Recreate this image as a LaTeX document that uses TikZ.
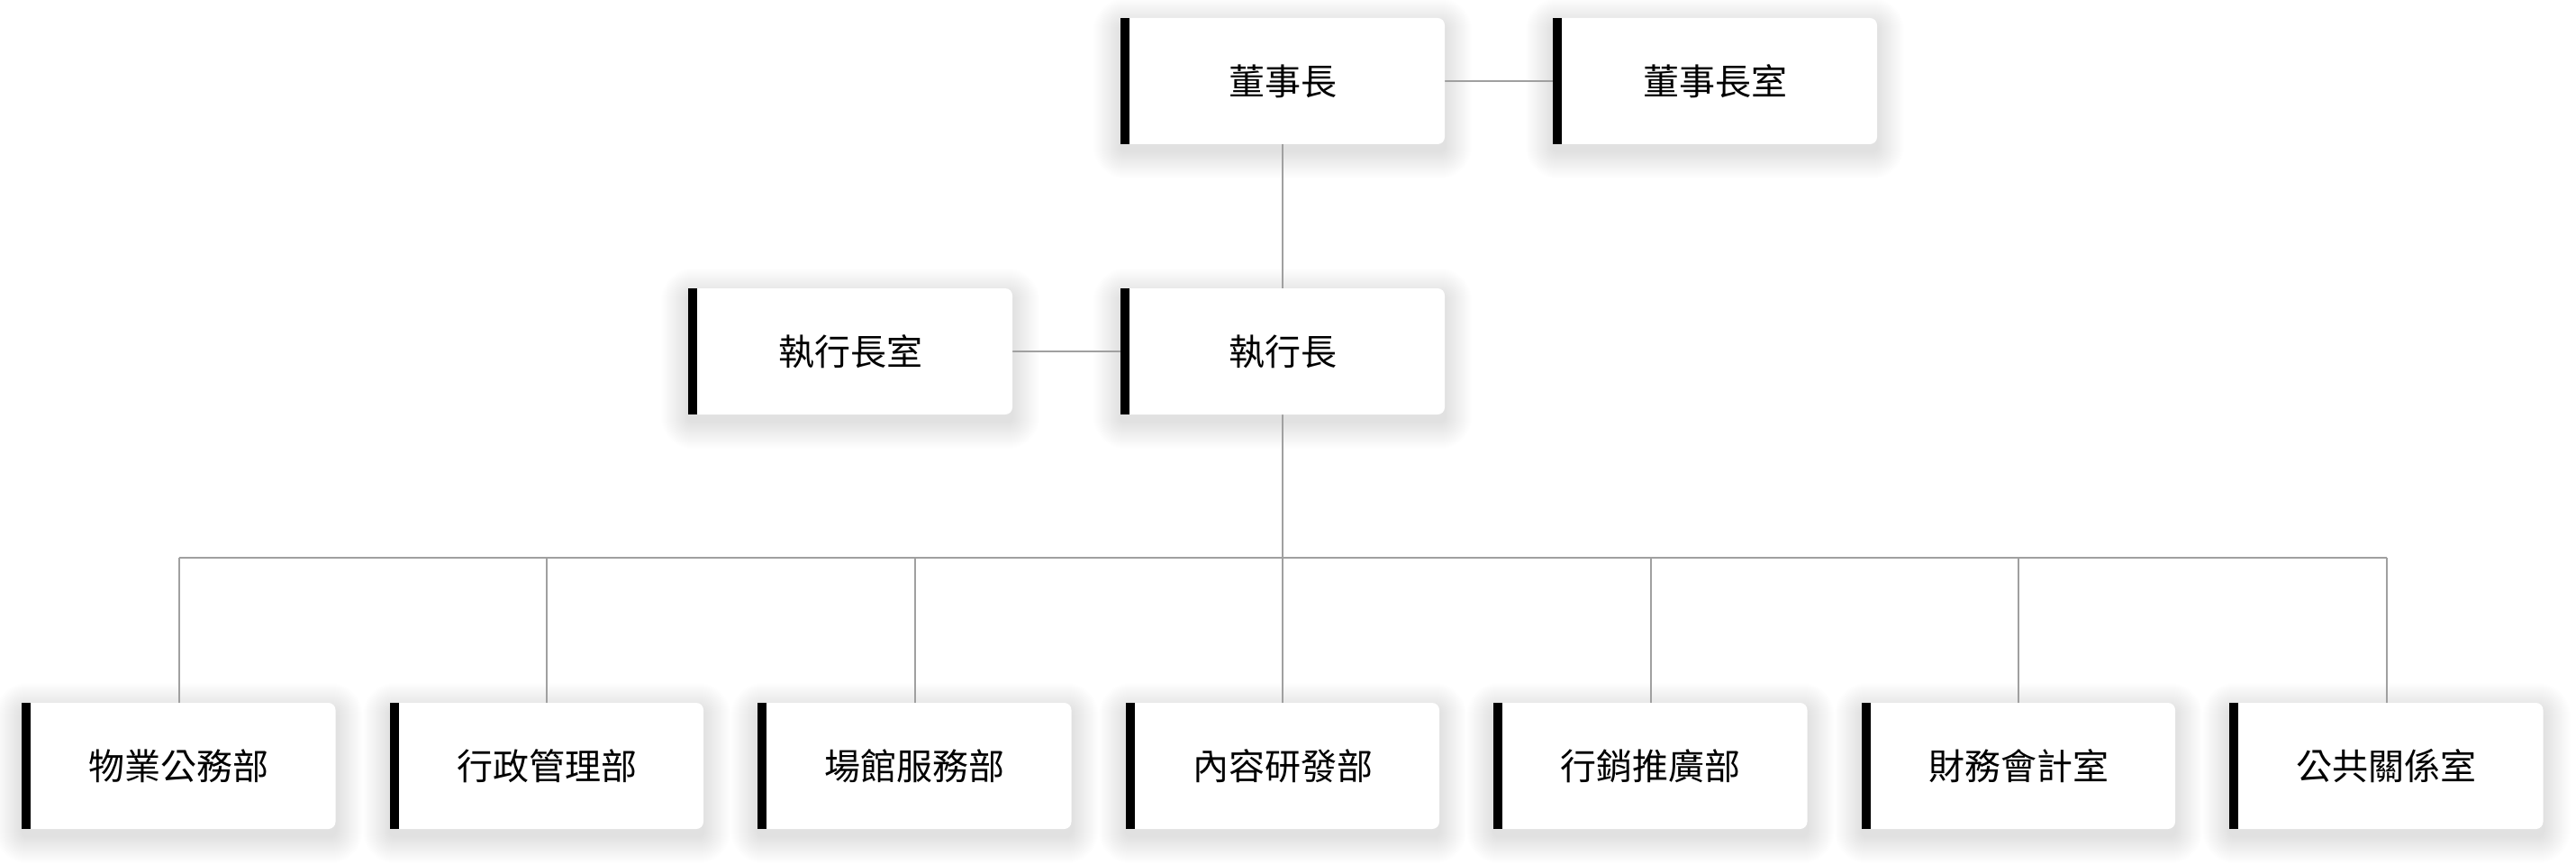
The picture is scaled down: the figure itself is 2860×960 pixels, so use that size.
\documentclass[tikz,border=0pt]{standalone}
\usepackage{fontspec}
\newfontfamily\cjk{Noto Sans CJK TC}
\definecolor{linegray}{HTML}{A0A0A0}
\definecolor{shadecol}{HTML}{1A2236}
\pgfdeclarelayer{paper}
\pgfdeclarelayer{shade}
\pgfsetlayers{paper,shade,main}
\tikzset{
  orgbox/.style={fill=white, rounded corners=8pt, inner sep=0pt,
    minimum height=140pt, text=black,
    font=\cjk\fontsize{40}{48}\selectfont},
  topbox/.style={orgbox, minimum width=360pt},
  deptbox/.style={orgbox, minimum width=348pt},
  link/.style={draw=linegray, line width=2pt},
  shadelayer/.style={fill=shadecol, opacity=0.0032},
}
\newcommand{\orgbar}[1]{\fill[black] (#1.north west) rectangle ([xshift=10pt]#1.south west);}
\newcommand{\orgshade}[1]{%
  \foreach \r in {1,2,...,30}{%
    \fill[shadelayer, rounded corners=\r pt+6pt]
      ([xshift=-\r pt, yshift=\r pt-8pt]#1.north west) rectangle
      ([xshift=\r pt, yshift=-\r pt-8pt]#1.south east);}}
\begin{document}
\begin{tikzpicture}[x=1pt,y=-1pt]
\begin{pgfonlayer}{paper}
\fill[white] (0,0) rectangle (2860,960);
\end{pgfonlayer}
\useasboundingbox (0,0) rectangle (2860,960);
\node[topbox] (chair) at (1424,90) {董事長};
\node[topbox] (chairoff) at (1904,90) {董事長室};
\node[topbox] (ceo) at (1424,390) {執行長};
\node[topbox] (ceooff) at (944,390) {執行長室};
\node[deptbox] (d1) at (198.5,850) {物業公務部};
\node[deptbox] (d2) at (607,850) {行政管理部};
\node[deptbox] (d3) at (1015.5,850) {場館服務部};
\node[deptbox] (d4) at (1424,850) {內容研發部};
\node[deptbox] (d5) at (1832.5,850) {行銷推廣部};
\node[deptbox] (d6) at (2241,850) {財務會計室};
\node[deptbox] (d7) at (2649.5,850) {公共關係室};
\foreach \n in {chair,chairoff,ceo,ceooff,d1,d2,d3,d4,d5,d6,d7}{\orgbar{\n}}
\begin{pgfonlayer}{shade}
\foreach \n in {chair,chairoff,ceo,ceooff,d1,d2,d3,d4,d5,d6,d7}{\orgshade{\n}}
\end{pgfonlayer}
\coordinate (bus) at (1424,619);
\begin{pgfonlayer}{shade}
\draw[link] (chair.east) -- (chairoff.west);
\draw[link] (chair.south) -- (ceo.north);
\draw[link] (ceooff.east) -- (ceo.west);
\draw[link] (ceo.south) -- (bus);
\draw[link] (d1.north |- bus) -- (d7.north |- bus);
\foreach \n in {d1,d2,d3,d4,d5,d6,d7}{\draw[link] (\n.north |- bus) -- (\n.north);}
\end{pgfonlayer}
\end{tikzpicture}
\end{document}
